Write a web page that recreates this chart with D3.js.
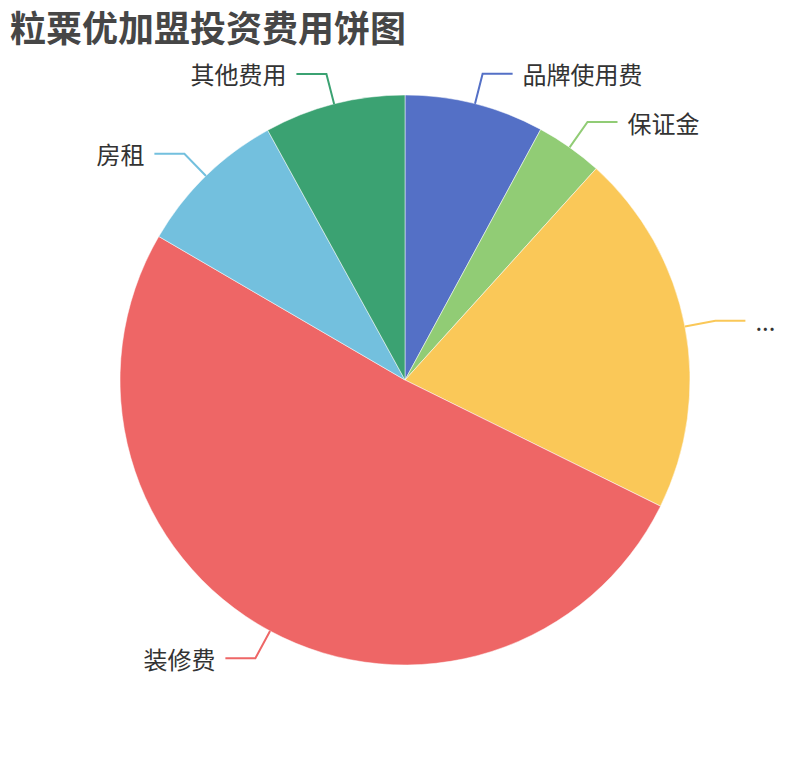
<!DOCTYPE html>
<html>
<head>
<meta charset="utf-8">
<script src="https://cdn.jsdelivr.net/npm/d3@7"></script>
<style>
  body { margin: 0; background: #fff; }
  text { font-family: "Noto Sans CJK SC", "Noto Sans", sans-serif; }
</style>
</head>
<body>
<div id="chart"></div>
<script>
// DATA
const names = ["品牌使用费", "保证金", "...", "装修费", "房租", "其他费用"];
const values = [7.9, 3.8, 20.6, 51.1, 8.6, 8.0];
const colors = ["#5470c6", "#91cc75", "#fac858", "#ee6666", "#73c0de", "#3ba272"];
const titleText = "粒粟优加盟投资费用饼图";

const width = 810, height = 760;
const cx = 405, cy = 380, radius = 285;
const len1 = 31, len2 = 30; // label line segments

const data = names.map((n, i) => ({name: n, value: values[i], color: colors[i]}));

const svg = d3.select("#chart").append("svg")
    .attr("width", width)
    .attr("height", height);

// title
svg.append("text")
    .attr("x", 10)
    .attr("y", 26)
    .attr("dominant-baseline", "central")
    .style("font-size", "36px")
    .style("font-weight", "bold")
    .style("fill", "#464646")
    .text(titleText);

const pie = d3.pie().sort(null).value(d => d.value);
const arc = d3.arc().innerRadius(0).outerRadius(radius);
const arcs = pie(data);

const g = svg.append("g").attr("transform", `translate(${cx},${cy})`);

// SLICES
g.selectAll("path.slice")
    .data(arcs)
    .join("path")
    .attr("class", "slice")
    .attr("d", arc)
    .attr("fill", d => d.data.color)
    .attr("stroke", "#fff")
    .attr("stroke-width", 0.5);

// LABEL LINES + LABELS
arcs.forEach(d => {
    const mid = (d.startAngle + d.endAngle) / 2;
    const sx = Math.sin(mid), sy = -Math.cos(mid);
    const p0 = [sx * radius, sy * radius];
    const p1 = [sx * (radius + len1), sy * (radius + len1)];
    const right = sx >= 0;
    const p2 = [p1[0] + (right ? len2 : -len2), p1[1]];

    g.append("polyline")
        .attr("points", [p0, p1, p2].map(p => p.join(",")).join(" "))
        .attr("fill", "none")
        .attr("stroke", d.data.color)
        .attr("stroke-width", 2);

    g.append("text")
        .attr("x", p2[0] + (right ? 10 : -10))
        .attr("y", p2[1])
        .attr("text-anchor", right ? "start" : "end")
        .attr("dominant-baseline", "central")
        .style("font-size", "24px")
        .style("fill", "#333")
        .text(d.data.name);
});
</script>
</body>
</html>
